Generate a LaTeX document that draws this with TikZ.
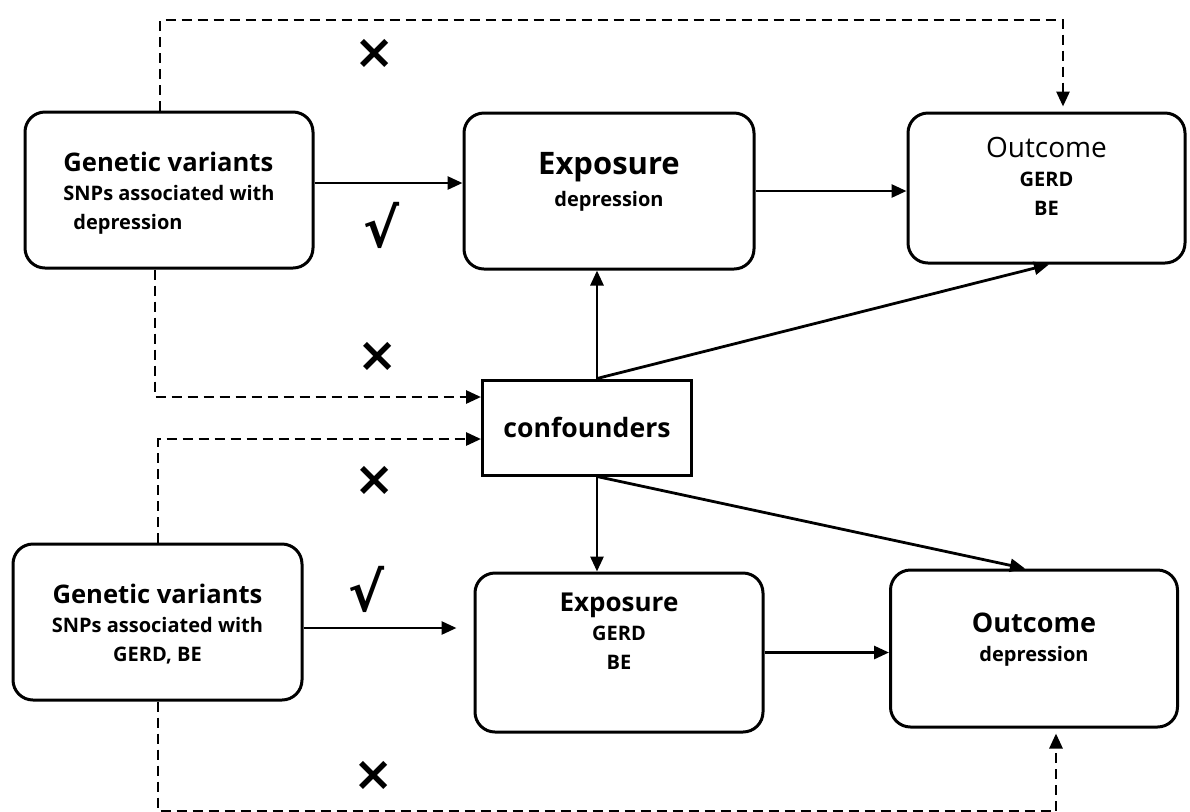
\documentclass[tikz,border=0pt]{standalone}
\usepackage{fontspec}
\setmainfont{Open Sans}
\newfontfamily\signfont{DejaVu Sans}
\usepackage{tikz}
\usetikzlibrary{arrows.meta}

\begin{document}
\begin{tikzpicture}[
    x=0.5pt,
    y=-0.5pt,
    thick
]

% =========================
% Styles
% =========================
\tikzstyle{box} = [
    rectangle, draw,
    line width=1.5pt,
    rounded corners=10pt,
    align=center,
    font=\bfseries\fontsize{10}{14.5}\selectfont
]

\tikzstyle{confbox} = [
    rectangle, draw,
    line width=1.5pt,
    font=\bfseries\fontsize{13.3}{16}\selectfont
]

\tikzstyle{sign} = [
    inner sep=0pt,
    font=\signfont\bfseries\fontsize{24}{24}\selectfont
]

\tikzstyle{line} = [draw, -{Triangle[length=7.5pt,width=6.5pt]}, line width=1.4pt]
\tikzstyle{dline} = [line, dash pattern=on 5pt off 3pt]

\useasboundingbox (0,0) rectangle (1190,811);

% =========================
% Nodes (FIXED POSITIONS)
% =========================
\node[box, align=left, minimum width=144pt, minimum height=78pt, text height=42pt] (gen1) at (169,190)
    {{\fontsize{12.8}{15}\selectfont Genetic variants}\\SNPs associated with\\\hspace*{5pt}depression};

\node[box, minimum width=145pt, minimum height=78pt, text depth=12pt] (exp1) at (609,191)
    {{\fontsize{15.5}{18}\selectfont Exposure}\\[1.5pt]depression};

\node[box, minimum width=138.5pt, minimum height=75pt, text depth=11.5pt] (out1) at (1046.5,188)
    {{\mdseries\fontsize{14}{17}\selectfont Outcome}\\GERD\\BE};

\node[confbox, minimum width=104.5pt, minimum height=47.5pt] (conf) at (587,427.5)
    {confounders};

\node[box, minimum width=144.5pt, minimum height=78pt, text height=41pt] (gen2) at (157.5,622)
    {{\fontsize{12.8}{15}\selectfont Genetic variants}\\SNPs associated with\\GERD, BE};

\node[box, minimum width=144pt, minimum height=79.5pt, text depth=21pt] (exp2) at (619,652.5)
    {{\fontsize{13}{16}\selectfont Exposure}\\GERD\\BE};

\node[box, minimum width=143.5pt, minimum height=78.5pt, text depth=10.9pt] (out2) at (1034,648.5)
    {{\fontsize{13.5}{16}\selectfont Outcome}\\depression};

% marks on the paths
\node[sign] (no1) at (375,54) {×};
\node[sign, font=\signfont\bfseries\fontsize{27}{27}\selectfont] (ok1) at (382,225) {√};
\node[sign] (no2) at (378,357) {×};
\node[sign] (no3) at (375,481) {×};
\node[sign, font=\signfont\bfseries\fontsize{27}{27}\selectfont] (ok2) at (367,589) {√};
\node[sign] (no4) at (374,776) {×};

% =========================
% Connections
% =========================
\coordinate (topL) at (160,20);
\coordinate (topR) at (1063,20);
\coordinate (midA) at (155,397);
\coordinate (midB) at (158,439);
\coordinate (botL) at (158,811);
\coordinate (botR) at (1056,811);

\path[line] ([yshift=3.5pt]gen1.east) -- ([yshift=3.5pt]gen1.east -| exp1.west);
\path[line] (exp1.east) -- (exp1.east -| out1.west);

\path[line] ([xshift=5pt]conf.north) -- ([xshift=5pt]conf.north |- exp1.south);
\path[line] ([xshift=5pt]conf.north) -- ([xshift=1.25pt]out1.south);
\path[line] ([xshift=5pt]conf.south) -- ([xshift=5pt]conf.south |- exp2.north);
\path[line] ([xshift=5pt]conf.south) -- ([xshift=-4.5pt]out2.north);

\path[line, shorten >=8.5pt] ([yshift=-3pt]gen2.east) -- ([yshift=-3pt]gen2.east -| exp2.west);
\path[line] (exp2.east) -- (exp2.east -| out2.west);

\path[dline, shorten >=2.5pt] (gen1.north -| topL) -- (topL) -- (topR) -- (topR |- out1.north);
\path[dline] (gen1.south -| midA) -- (midA) -- (midA -| conf.west);
\path[dline] (gen2.north -| midB) -- (midB) -- (midB -| conf.west);
\path[dline, shorten >=2.5pt] (gen2.south -| botL) -- (botL) -- (botR) -- (botR |- out2.south);

\end{tikzpicture}
\end{document}
